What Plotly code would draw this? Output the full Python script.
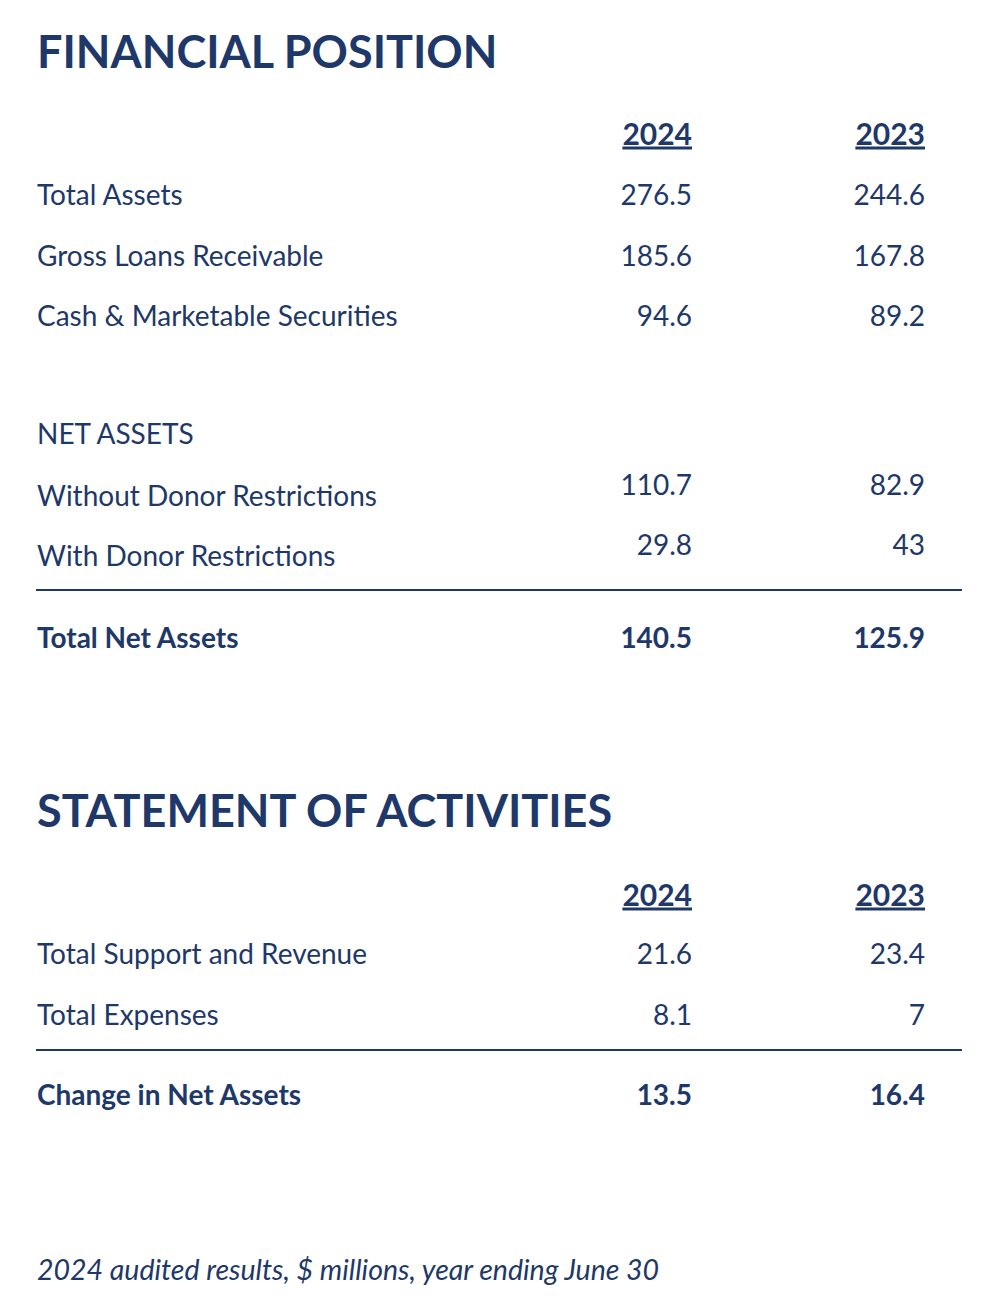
import plotly.graph_objects as go

# ---------------- data ----------------
years = ["2024", "2023"]

fp_labels = ["Total Assets", "Gross Loans Receivable", "Cash & Marketable Securities"]
fp_2024 = [276.5, 185.6, 94.6]
fp_2023 = [244.6, 167.8, 89.2]

na_heading = "NET ASSETS"
na_labels = ["Without Donor Restrictions", "With Donor Restrictions"]
na_2024 = [110.7, 29.8]
na_2023 = [82.9, 43]

total_label = "Total Net Assets"
total_na = [140.5, 125.9]

sa_labels = ["Total Support and Revenue", "Total Expenses"]
sa_2024 = [21.6, 8.1]
sa_2023 = [23.4, 7]

change_label = "Change in Net Assets"
change_na = [13.5, 16.4]

title_fp = "FINANCIAL POSITION"
title_sa = "STATEMENT OF ACTIVITIES"
footnote = "2024 audited results, $ millions, year ending June 30"

# ---------------- style / layout ----------------
W, H = 1000, 1310
PAGE_OFF = 8          # browser body margin
NAVY = "#1e3869"
FONT = "Lato"
X_LABEL = 37
X_COL = [692, 925]
BODY = 28
HEAD = 30
TITLE = 45
DY = 4                # vertical nudge for body text
DYT = 7               # vertical nudge for titles

fmt = lambda v: f"{v:g}"

fig = go.Figure()


def add_text(xs, ys, texts, pos, size, weight="normal", style="normal", lineposition="none"):
    fig.add_trace(go.Scatter(
        x=xs, y=ys, text=texts, mode="text", textposition=pos,
        textfont=dict(family=FONT, size=size, color=NAVY, weight=weight,
                      style=style, lineposition=lineposition),
        hoverinfo="skip", showlegend=False, cliponaxis=False))


def labels(y_list, texts, size=BODY, weight="normal", dy=DY):
    add_text([X_LABEL] * len(texts), [y + dy for y in y_list], texts, "middle right", size, weight)


def values(y_list, col_vals, weight="normal"):
    for ci, vals in enumerate(col_vals):
        add_text([X_COL[ci]] * len(vals), [y + DY for y in y_list], [fmt(v) for v in vals],
                 "middle left", BODY, weight)


def headers(y):
    add_text(X_COL, [y + DY, y + DY], years, "middle left", HEAD, "bold", lineposition="under")


# Financial position
labels([50], [title_fp], TITLE, "bold", DYT)
headers(133)
fp_y = [194, 255, 315]
labels(fp_y, fp_labels)
values(fp_y, [fp_2024, fp_2023])
labels([433], [na_heading])
na_label_y = [495, 555]
na_val_y = [484, 544]
labels(na_label_y, na_labels)
values(na_val_y, [na_2024, na_2023])
labels([637], [total_label], BODY, "bold")
values([637], [[total_na[0]], [total_na[1]]], "bold")

# Statement of activities
labels([809], [title_sa], TITLE, "bold", DYT)
headers(894)
sa_y = [953, 1014]
labels(sa_y, sa_labels)
values(sa_y, [sa_2024, sa_2023])
labels([1094], [change_label], BODY, "bold")
values([1094], [[change_na[0]], [change_na[1]]], "bold")

# footnote
add_text([X_LABEL], [1269 + DY], [footnote], "middle right", 28.5, style="italic")

# rules
for yy in (590, 1050):
    fig.add_shape(type="line", x0=36, x1=962, y0=yy, y1=yy,
                  line=dict(color=NAVY, width=2), xref="x", yref="y")

fig.update_layout(
    width=W, height=H, margin=dict(l=0, r=0, t=0, b=0),
    paper_bgcolor="white", plot_bgcolor="white",
    xaxis=dict(range=[PAGE_OFF, W + PAGE_OFF], visible=False, fixedrange=True),
    yaxis=dict(range=[H + PAGE_OFF, PAGE_OFF], visible=False, fixedrange=True),
)

fig.write_html("out.html")
